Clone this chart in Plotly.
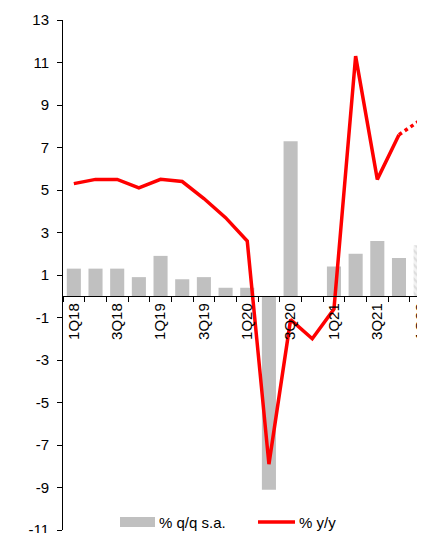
import plotly.graph_objects as go

quarters = ["1Q18", "2Q18", "3Q18", "4Q18", "1Q19", "2Q19", "3Q19", "4Q19",
            "1Q20", "2Q20", "3Q20", "4Q20", "1Q21", "2Q21", "3Q21", "4Q21", "1Q22"]
qoq_sa = [1.3, 1.3, 1.3, 0.9, 1.9, 0.8, 0.9, 0.4,
          0.4, -9.1, 7.3, 0.0, 1.4, 2.0, 2.6, 1.8, 2.4]
yoy = [5.3, 5.5, 5.5, 5.1, 5.5, 5.4, 4.6, 3.7,
       2.6, -7.9, -1.1, -2.0, -0.6, 11.3, 5.5, 7.6, 8.3]
forecast_from = 16  # index of first forecast quarter (1Q22)
y_ticks = list(range(-11, 14, 2))
x_labels = [q if i % 2 == 0 else "" for i, q in enumerate(quarters)]

FONT = "Liberation Sans, Arial, sans-serif"
BAR = "#c0c0c0"
RED = "#ff0000"

# page body has an 8px margin: plot area in window px is x 63..425, y 20..530
BODY = 8
PL, PR, PT, PB = 63, 425, 20, 530
W, H = 425 - BODY, 533 - BODY


def px_x(x):
    return (x - PL) / (PR - PL)


def px_y(y):
    return (PB - y) / (PB - PT)


fig = go.Figure()

fig.add_trace(go.Bar(
    x=quarters[:forecast_from], y=qoq_sa[:forecast_from],
    marker=dict(color=BAR, line=dict(width=0)),
    width=0.65, showlegend=False, name="% q/q s.a.",
))
fig.add_trace(go.Bar(
    x=quarters[forecast_from:], y=qoq_sa[forecast_from:],
    marker=dict(color="#f2f2f2", line=dict(width=0),
                pattern=dict(shape="\\", fgcolor="#c8c8c8", bgcolor="#f2f2f2",
                             size=5, solidity=0.45)),
    width=0.65, showlegend=False, name="% q/q s.a. (f)",
))
fig.add_trace(go.Scatter(
    x=quarters[:forecast_from], y=yoy[:forecast_from], mode="lines",
    line=dict(color=RED, width=3.5), showlegend=False, name="% y/y",
))
fig.add_trace(go.Scatter(
    x=quarters[forecast_from - 1:], y=yoy[forecast_from - 1:], mode="lines",
    line=dict(color=RED, width=3.5, dash="dot"), showlegend=False, name="% y/y (f)",
))

ymin, ymax = -11, 13
zero_pos = (0 - ymin) / (ymax - ymin)

fig.update_layout(
    width=W, height=H,
    margin=dict(l=PL - BODY, r=W - (PR - BODY), t=PT - BODY, b=H - (PB - BODY)),
    paper_bgcolor="white", plot_bgcolor="white",
    font=dict(family=FONT, size=15, color="black"),
    barmode="overlay",
    xaxis=dict(
        type="category", categoryorder="array", categoryarray=quarters,
        range=[-0.5, 16.2], automargin=False,
        anchor="free", position=zero_pos,
        tickmode="array", tickvals=quarters, ticktext=x_labels,
        tickson="boundaries", ticks="outside", ticklen=5, tickcolor="black",
        tickangle=-90, tickfont=dict(family=FONT, size=15, color="black"),
        ticklabeloverflow="allow",
        showline=True, linecolor="black", linewidth=1,
        showgrid=False, zeroline=False,
    ),
    yaxis=dict(
        range=[ymin, ymax], automargin=False,
        tickmode="array", tickvals=y_ticks, ticktext=[str(v) for v in y_ticks],
        ticks="outside", ticklen=5, tickcolor="black", ticklabelstandoff=5,
        tickfont=dict(family=FONT, size=15, color="black"),
        ticklabeloverflow="allow",
        showline=True, linecolor="black", linewidth=1,
        showgrid=False, zeroline=False,
    ),
    shapes=[
        dict(type="rect", xref="paper", yref="paper",
             x0=px_x(120), x1=px_x(155), y0=px_y(527), y1=px_y(517),
             fillcolor=BAR, line=dict(width=0)),
        dict(type="line", xref="paper", yref="paper",
             x0=px_x(258), x1=px_x(295), y0=px_y(522), y1=px_y(522),
             line=dict(color=RED, width=3.5)),
    ],
    annotations=[
        dict(text="% q/q s.a.", xref="paper", yref="paper",
             x=px_x(157), y=px_y(522),
             xanchor="left", yanchor="middle", showarrow=False,
             font=dict(family=FONT, size=15, color="black")),
        dict(text="% y/y", xref="paper", yref="paper",
             x=px_x(297), y=px_y(522),
             xanchor="left", yanchor="middle", showarrow=False,
             font=dict(family=FONT, size=15, color="black")),
    ],
)

fig.write_html("out.html")
